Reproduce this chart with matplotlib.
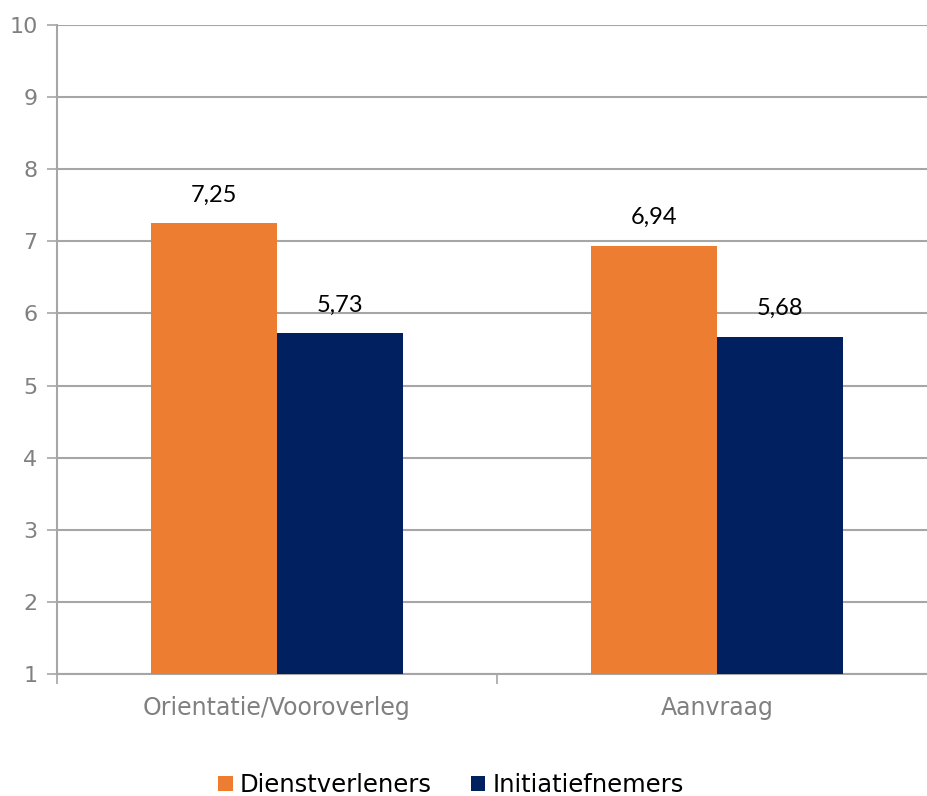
import matplotlib
matplotlib.use("Agg")
import matplotlib.pyplot as plt
import numpy as np

categories = ["Orientatie/Vooroverleg", "Aanvraag"]
series_names = ["Dienstverleners", "Initiatiefnemers"]
dienstverleners = [7.25, 6.94]
initiatiefnemers = [5.73, 5.68]
value_labels_d = ["7,25", "6,94"]
value_labels_i = ["5,73", "5,68"]
yticks = [1, 2, 3, 4, 5, 6, 7, 8, 9, 10]

ORANGE = "#ED7D31"
NAVY = "#002060"
GRID = "#A6A6A6"
TICKC = "#808080"
FONT = "DejaVu Sans"

W, H = 928, 796
fig = plt.figure(figsize=(W / 100, H / 100), dpi=100)
left_px, right_px, top_px, bot_px = 57, 937, 25, 674
ax = fig.add_axes([left_px / W, 1 - bot_px / H, (right_px - left_px) / W, (bot_px - top_px) / H])

x = np.arange(len(categories))
bw = 126 / 440
b1 = ax.bar(x - bw / 2, [v - 1 for v in dienstverleners], bw, bottom=1, color=ORANGE,
            label=series_names[0], zorder=3)
b2 = ax.bar(x + bw / 2, [v - 1 for v in initiatiefnemers], bw, bottom=1, color=NAVY,
            label=series_names[1], zorder=3)

for rects, vals, labs in ((b1, dienstverleners, value_labels_d), (b2, initiatiefnemers, value_labels_i)):
    for r, v, t in zip(rects, vals, labs):
        ax.annotate(t, (r.get_x() + r.get_width() / 2, v), xytext=(0, 28), textcoords="offset pixels",
                    ha="center", va="center", fontsize=17, family="Lato", color="black")

ax.set_xlim(-0.5, 1.5)
ax.set_ylim(1, 10)
ax.set_yticks(yticks)
ax.set_yticklabels([str(t) for t in yticks])
ax.yaxis.grid(True, color=GRID, linewidth=1.5, zorder=0)
ax.set_axisbelow(True)

ax.set_xticks([-0.5, 0.5, 1.5])
ax.set_xticklabels([])
ax.set_xticks(x, minor=True)
ax.set_xticklabels(categories, minor=True)
ax.tick_params(axis="x", which="minor", length=0, pad=16, labelsize=17, labelcolor=TICKC)
ax.tick_params(axis="x", which="major", length=7, width=1.2, color=GRID, direction="out")
ax.tick_params(axis="y", length=7, width=1.2, color=GRID, labelsize=16, labelcolor=TICKC, pad=7)
for lab in ax.get_xticklabels(minor=True) + ax.get_yticklabels():
    lab.set_family(FONT)

for s in ["top", "right"]:
    ax.spines[s].set_visible(False)
ax.spines["left"].set_color(GRID)
ax.spines["left"].set_linewidth(1.5)
ax.spines["bottom"].set_color(GRID)
ax.spines["bottom"].set_linewidth(1.5)

leg = fig.legend(handles=[b1, b2], labels=series_names, loc="center",
                 bbox_to_anchor=(451 / W, 1 - 785 / H), ncol=2, frameon=False,
                 prop={"family": FONT, "size": 17.5}, handlelength=0.6, handleheight=0.6,
                 handletextpad=0.3, columnspacing=1.6)

fig.savefig("out.png", dpi=100)
